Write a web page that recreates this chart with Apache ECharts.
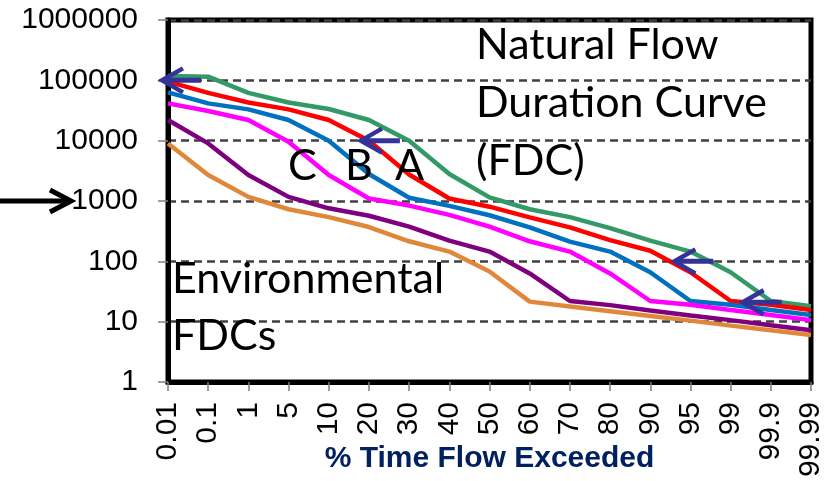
<!DOCTYPE html>
<html>
<head>
<meta charset="utf-8">
<script src="https://cdn.jsdelivr.net/npm/echarts@6/dist/echarts.min.js"></script>
<style>
html,body{margin:0;padding:0;background:#fff;}
#chart{width:840px;height:481px;}
</style>
</head>
<body>
<div id="chart"></div>
<script>
// ---- data ----
const categories = ['0.01','0.1','1','5','10','20','30','40','50','60','70','80','90','95','99','99.9','99.99'];
const greenFDC   = [118000, 115000, 62000, 43000, 33500, 22000, 10000, 2800, 1150, 730, 540, 355, 220, 145, 66, 22, 18];
const redFDC     = [95000, 62000, 43000, 33000, 22000, 10000, 2750, 1100, 805, 535, 365, 225, 150, 66, 22, 19, 15.6];
const blueFDC    = [63000, 41500, 33000, 22000, 10000, 2800, 1130, 830, 580, 365, 212, 145, 66, 22, 19, 15.6, 12.9];
const magentaFDC = [41500, 31000, 22000, 9600, 2700, 1100, 840, 590, 375, 215, 145, 63, 22, 19, 15.6, 12.9, 10.6];
const purpleFDC  = [22000, 9000, 2700, 1170, 757, 570, 375, 220, 145, 63, 22, 18.8, 15.3, 12.7, 10.6, 8.7, 7.2];
const orangeFDC  = [9000, 2700, 1170, 730, 540, 370, 215, 145, 68, 21.5, 17.9, 14.9, 12.4, 10.4, 8.6, 7.2, 6.0];
const yMin = 1, yMax = 1000000;
const xTitle = '% Time Flow Exceeded';
// arrow anchors: [category position, flow value]
const arrowAnchors = [[-0.15, 100000], [4.8, 10000], [12.6, 100], [14.3, 21]];
const leftArrowValue = 1000;

const chart = echarts.init(document.getElementById('chart'), null, {renderer: 'canvas'});

const seriesDefs = [
  {name: 'Natural', data: greenFDC, color: '#339966'},
  {name: 'A', data: redFDC, color: '#FF0000'},
  {name: 'B', data: blueFDC, color: '#0070C0'},
  {name: 'C', data: magentaFDC, color: '#FF00FF'},
  {name: 'D', data: purpleFDC, color: '#7F007F'},
  {name: 'E', data: orangeFDC, color: '#E0883A'}
];

const option = {
  animation: false,
  backgroundColor: '#ffffff',
  grid: {left: 168, right: 29, top: 20, bottom: 99, containLabel: false, outerBoundsMode: 'none',
         show: true, borderColor: '#000', borderWidth: 5, backgroundColor: 'transparent'},
  xAxis: {
    type: 'category',
    data: categories,
    boundaryGap: false,
    axisLine: {show: true, lineStyle: {color: '#000', width: 5}},
    axisTick: {show: true, inside: false, length: 9, interval: 0, lineStyle: {color: '#808080', width: 1.5}},
    axisLabel: {interval: 0, rotate: 90, margin: 20, color: '#000', fontSize: 30, fontFamily: 'Liberation Sans', hideOverlap: false},
    splitLine: {show: false},
    name: xTitle,
    nameLocation: 'middle',
    nameGap: 62,
    nameMoveOverlap: false,
    nameTextStyle: {color: '#002060', fontSize: 30, fontWeight: 'bold', fontFamily: 'Liberation Sans'}
  },
  yAxis: {
    type: 'log',
    logBase: 10,
    min: yMin,
    max: yMax,
    axisLine: {show: true, lineStyle: {color: '#000', width: 5}},
    axisTick: {show: true, inside: false, length: 10, lineStyle: {color: '#808080', width: 1.5}},
    axisLabel: {margin: 30, color: '#000', fontSize: 30, fontFamily: 'Liberation Sans', formatter: v => String(Math.round(v))},
    splitLine: {show: true, lineStyle: {color: '#404040', width: 2.5, type: [8, 5]}}
  },
  series: seriesDefs.map(s => ({
    name: s.name,
    type: 'line',
    data: s.data,
    symbol: 'none',
    smooth: false,
    lineStyle: {color: s.color, width: 4.5},
    z: 3
  }))
};
chart.setOption(option);

function px(idx, val) {
  const i0 = Math.max(0, Math.min(categories.length - 2, Math.floor(idx)));
  const f = idx - i0;
  const p0 = chart.convertToPixel({xAxisIndex: 0, yAxisIndex: 0}, [i0, val]);
  const p1 = chart.convertToPixel({xAxisIndex: 0, yAxisIndex: 0}, [i0 + 1, val]);
  return [p0[0] + f * (p1[0] - p0[0]), p0[1]];
}

const arrowColor = '#333399';
const graphics = [];
arrowAnchors.forEach(a => {
  const [x, y] = px(a[0], a[1]);
  graphics.push({type: 'polyline', z: 50, shape: {points: [[x + 21, y - 12], [x, y], [x + 21, y + 12]]}, style: {stroke: arrowColor, lineWidth: 4.5, fill: null}});
  graphics.push({type: 'line', z: 50, shape: {x1: x + 2, y1: y, x2: x + 39, y2: y}, style: {stroke: arrowColor, lineWidth: 5}});
});
const ly = chart.convertToPixel({yAxisIndex: 0}, leftArrowValue);
graphics.push({type: 'line', z: 50, shape: {x1: 0, y1: ly, x2: 68, y2: ly}, style: {stroke: '#000', lineWidth: 5}});
graphics.push({type: 'polyline', z: 50, shape: {points: [[50, ly - 11], [71, ly], [50, ly + 11]]}, style: {stroke: '#000', lineWidth: 5, fill: null}});

const annFont = '43px Lato';
const texts = [
  ['Natural Flow', 476, 45],
  ['Duration Curve', 476, 103],
  ['(FDC)', 476, 161],
  ['C', 288, 166],
  ['B', 345, 166],
  ['A', 395, 166],
  ['Environmental', 172, 279],
  ['FDCs', 172, 336]
];
texts.forEach(t => {
  graphics.push({type: 'text', z: 60, style: {text: t[0], x: t[1], y: t[2], font: annFont, fill: '#000', textAlign: 'left', textVerticalAlign: 'middle', verticalAlign: 'middle'}});
});
chart.setOption({graphic: graphics});
</script>
</body>
</html>
